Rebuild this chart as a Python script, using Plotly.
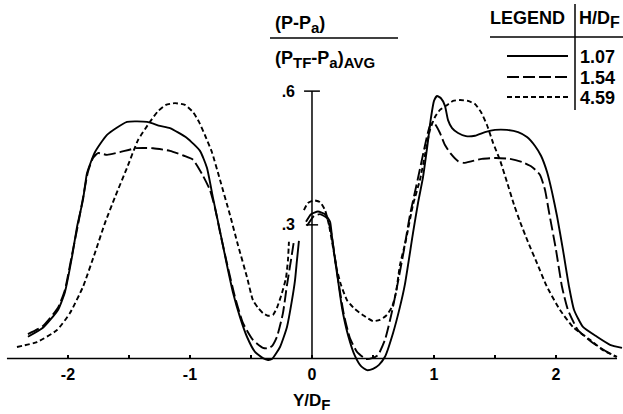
import plotly.graph_objects as go

# ---------------- data (Y/D_F vs (P-Pa)/(PTF-Pa)AVG) ----------------
h_over_df = ["1.07", "1.54", "4.59"]

y_df_107 = [-2.328, -2.205, -2.082, -2.025, -1.967, -1.926, -1.877, -1.844, -1.779, -1.680,
            -1.516, -1.352, -1.246, -1.164, -1.025, -0.918, -0.861, -0.811, -0.754, -0.697,
            -0.648, -0.590, -0.533, -0.467, -0.402, -0.361, -0.328, -0.262, -0.205, -0.164,
            -0.139, -0.123, -0.107, None,
            -0.049, -0.008, 0.049, 0.107, 0.148, 0.164, 0.189, 0.213, 0.246, 0.295,
            0.352, 0.402, 0.451, 0.5, 0.549, 0.598, 0.664, 0.721, 0.762, 0.828,
            0.869, 0.910, 0.943, 0.975, 1.0, 1.025, 1.057, 1.090, 1.115, 1.148,
            1.197, 1.262, 1.336, 1.418, 1.5, 1.598, 1.689, 1.762, 1.828, 1.877,
            1.926, 1.967, 2.008, 2.057, 2.107, 2.148, 2.221, 2.336, 2.443, 2.541]
p_107 = [0.049, 0.069, 0.109, 0.149, 0.228, 0.295, 0.356, 0.416, 0.463, 0.502,
         0.531, 0.531, 0.522, 0.517, 0.495, 0.466, 0.428, 0.360, 0.286, 0.210,
         0.149, 0.093, 0.049, 0.015, 0.001, -0.003, -0.001, 0.026, 0.071, 0.131,
         0.176, 0.221, 0.264, None,
         0.307, 0.324, 0.330, 0.324, 0.307, 0.273, 0.221, 0.176, 0.114, 0.053,
         0.006, -0.017, -0.026, -0.023, -0.014, 0.004, 0.057, 0.116, 0.167, 0.282,
         0.349, 0.407, 0.472, 0.540, 0.578, 0.589, 0.584, 0.567, 0.535, 0.517,
         0.506, 0.499, 0.500, 0.508, 0.513, 0.513, 0.508, 0.497, 0.477, 0.455,
         0.419, 0.374, 0.320, 0.244, 0.161, 0.109, 0.071, 0.049, 0.031, 0.024]

y_df_154 = [-2.328, -2.205, -2.082, -2.025, -1.967, -1.918, -1.877, -1.836, -1.795, -1.754,
            -1.680, -1.574, -1.443, -1.303, -1.164, -1.049, -0.975, -0.893, -0.836, -0.795,
            -0.754, -0.697, -0.631, -0.566, -0.484, -0.402, -0.361, -0.328, -0.287, -0.238,
            -0.205, -0.172, -0.148, None,
            -0.041, 0.016, 0.066, 0.123, 0.156, 0.189, 0.221, 0.262, 0.311, 0.369,
            0.443, 0.492, 0.541, 0.598, 0.648, 0.697, 0.754, 0.803, 0.869, 0.918,
            0.951, 0.975, 1.008, 1.049, 1.090, 1.139, 1.197, 1.246, 1.311, 1.393,
            1.508, 1.623, 1.721, 1.803, 1.869, 1.910, 1.943, 2.0, 2.049, 2.098,
            2.180, 2.303, 2.418, 2.492]
p_154 = [0.055, 0.073, 0.114, 0.154, 0.233, 0.300, 0.360, 0.419, 0.450, 0.461,
         0.457, 0.463, 0.472, 0.472, 0.466, 0.455, 0.446, 0.410, 0.378, 0.338,
         0.284, 0.214, 0.138, 0.080, 0.042, 0.024, 0.023, 0.028, 0.049, 0.102,
         0.165, 0.221, 0.264, None,
         0.298, 0.320, 0.324, 0.315, 0.284, 0.225, 0.165, 0.098, 0.046, 0.015,
         -0.001, 0.001, 0.008, 0.042, 0.096, 0.161, 0.244, 0.322, 0.405, 0.468,
         0.508, 0.528, 0.526, 0.506, 0.479, 0.459, 0.443, 0.439, 0.443, 0.448,
         0.450, 0.448, 0.441, 0.430, 0.412, 0.378, 0.328, 0.244, 0.161, 0.109,
         0.064, 0.035, 0.015, 0.004]

y_df_459 = [-2.418, -2.254, -2.090, -1.984, -1.877, -1.779, -1.697, -1.615, -1.516, -1.426,
            -1.328, -1.262, -1.197, -1.123, -1.041, -0.975, -0.926, -0.877, -0.820, -0.754,
            -0.672, -0.607, -0.533, -0.484, -0.443, -0.402, -0.361, -0.320, -0.287, -0.246,
            -0.213, -0.197, -0.189, None,
            -0.066, -0.033, 0.016, 0.066, 0.107, 0.139, 0.172, 0.205, 0.238, 0.287,
            0.352, 0.426, 0.5, 0.557, 0.607, 0.656, 0.689, 0.721, 0.770, 0.828,
            0.885, 0.926, 0.967, 1.008, 1.049, 1.098, 1.156, 1.213, 1.279, 1.336,
            1.385, 1.434, 1.484, 1.541, 1.598, 1.656, 1.705, 1.770, 1.844, 1.926,
            2.033, 2.139, 2.279, 2.385, 2.5]
p_459 = [0.026, 0.037, 0.064, 0.102, 0.161, 0.237, 0.304, 0.362, 0.428, 0.490,
         0.531, 0.555, 0.569, 0.573, 0.569, 0.553, 0.531, 0.501, 0.463, 0.401,
         0.322, 0.255, 0.183, 0.131, 0.114, 0.102, 0.096, 0.098, 0.114, 0.147,
         0.181, 0.221, 0.262, None,
         0.333, 0.349, 0.355, 0.351, 0.333, 0.300, 0.250, 0.199, 0.165, 0.131,
         0.111, 0.096, 0.084, 0.087, 0.096, 0.116, 0.149, 0.210, 0.266, 0.345,
         0.401, 0.457, 0.513, 0.542, 0.558, 0.567, 0.578, 0.580, 0.578, 0.571,
         0.553, 0.524, 0.484, 0.445, 0.396, 0.345, 0.307, 0.262, 0.214, 0.161,
         0.109, 0.071, 0.042, 0.019, 0.004]

x_tick_vals = [-2, -1.5, -1, -0.5, 0, 0.5, 1, 1.5, 2]
x_tick_text = ["-2", "", "-1", "", "0", "", "1", "", "2"]
y_tick_vals = [0.3, 0.6]
y_tick_text = [".3", ".6"]

# ---------------- layout constants ----------------
W, H = 623, 414
XR = [-2.557, 2.549]
YR = [-0.1243, 0.8044]
FONT = "Liberation Sans"
dashes = ["solid", "12px,4px", "5px,3px"]


def pxx(v):
    return v / W


def pxy(v):
    return 1 - v / H


fig = go.Figure()
series = [(y_df_107, p_107), (y_df_154, p_154), (y_df_459, p_459)]
for (xs, ys), d in zip(series, dashes):
    fig.add_trace(go.Scatter(
        x=xs, y=ys, mode="lines", connectgaps=False, showlegend=False,
        hoverinfo="skip",
        line=dict(color="black", width=1.9, dash=d, shape="spline", smoothing=0.5)))

shapes = []
# axes lines
shapes.append(dict(type="line", xref="x", yref="y", x0=-2.5, x1=2.5, y0=0, y1=0,
                   line=dict(color="black", width=1.5)))
shapes.append(dict(type="line", xref="x", yref="y", x0=0, x1=0, y0=0, y1=0.6,
                   line=dict(color="black", width=1.5)))
for yv, half in zip(y_tick_vals, [0.05, 0.065]):
    shapes.append(dict(type="line", xref="x", yref="y", x0=-half, x1=half, y0=yv, y1=yv,
                       line=dict(color="black", width=1.5)))
# y title fraction bar
shapes.append(dict(type="line", xref="paper", yref="paper", x0=pxx(270), x1=pxx(398),
                   y0=pxy(38), y1=pxy(38), line=dict(color="black", width=1.5)))
# legend table
shapes.append(dict(type="line", xref="paper", yref="paper", x0=pxx(575), x1=pxx(575),
                   y0=pxy(4), y1=pxy(110), line=dict(color="black", width=1.5)))
shapes.append(dict(type="line", xref="paper", yref="paper", x0=pxx(490), x1=pxx(623),
                   y0=pxy(37), y1=pxy(37), line=dict(color="black", width=1.5)))
row_y = [56, 77, 97]
for ry, d in zip(row_y, dashes):
    shapes.append(dict(type="line", xref="paper", yref="paper", x0=pxx(507), x1=pxx(568),
                       y0=pxy(ry), y1=pxy(ry), line=dict(color="black", width=1.9, dash=d)))

ann = []


def add_text(text, x, y, size, xanchor="left", yanchor="middle"):
    ann.append(dict(text=text, x=pxx(x), y=pxy(y), xref="paper", yref="paper",
                    showarrow=False, xanchor=xanchor, yanchor=yanchor,
                    font=dict(family=FONT, size=size, color="black", weight="bold")))


def sub(t, size=15):
    return "<sub><span style='font-size:%dpx'>%s</span></sub>" % (size, t)


add_text("(P-P" + sub("a") + ")", 273, 24, 18)
add_text("(P" + sub("TF") + "-P" + sub("a") + ")" + sub("AVG"), 273, 60, 18)
add_text("LEGEND", 488, 18, 18)
add_text("H/D" + sub("F", 16), 577, 20, 18)
for ry, t in zip(row_y, h_over_df):
    add_text(t, 578, ry + 1, 18)
add_text("Y/D" + sub("F", 15), 312, 402, 17, xanchor="center")

fig.update_layout(
    width=W, height=H, margin=dict(l=0, r=0, t=0, b=0),
    paper_bgcolor="white", plot_bgcolor="white",
    shapes=shapes, annotations=ann,
    xaxis=dict(range=XR, anchor="free", position=1 - 358.6 / H, showgrid=False,
               zeroline=False, showline=False, ticks="inside", ticklen=4, tickwidth=1.5,
               tickcolor="black", tickvals=x_tick_vals, ticktext=x_tick_text,
               ticklabelstandoff=4,
               tickfont=dict(family=FONT, size=16, color="black", weight="bold")),
    yaxis=dict(range=YR, anchor="free", position=(0 - XR[0]) / (XR[1] - XR[0]),
               showgrid=False, zeroline=False, showline=False, ticks="",
               tickvals=y_tick_vals, ticktext=y_tick_text, ticklabelstandoff=17,
               tickfont=dict(family=FONT, size=16, color="black", weight="bold")),
)

fig.write_html("out.html", config={"displayModeBar": False},
               post_script="document.body.style.margin='0px';document.body.style.padding='0px';")
